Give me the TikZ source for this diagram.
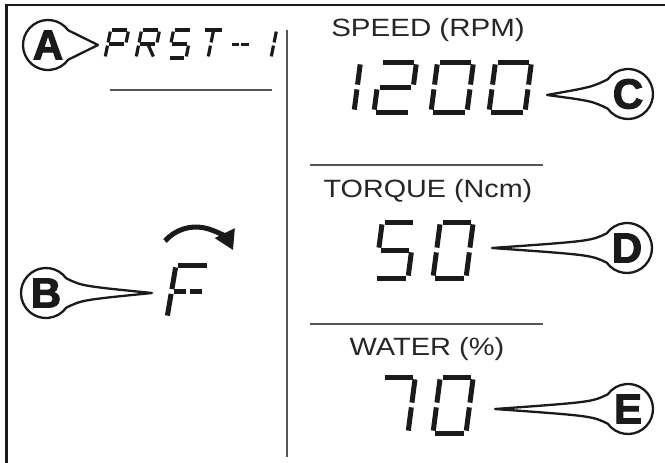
\documentclass[tikz,border=0pt]{standalone}
\usepackage{fontspec}
\setmainfont{Liberation Sans}
\newfontfamily\letfont{Liberation Sans Bold}[FakeBold=2.6]
\usetikzlibrary{calc,arrows.meta}
\definecolor{ink}{HTML}{1A1A1A}
\definecolor{txt}{HTML}{262626}
\definecolor{rulec}{HTML}{555555}
% seven-segment glyph: #1 x, #2 y bottom, #3 width, #4 height, #5 slant, #6 segments, #7 style
\newcommand{\segd}[7]{%
 \begin{scope}[shift={(#1,#2)}]
  \coordinate (BL) at (0,0);
  \coordinate (BR) at (#3,0);
  \coordinate (BM) at ({#3/2},0);
  \coordinate (ML) at ({#5*#4/2},{-#4/2});
  \coordinate (MR) at ({#3+#5*#4/2},{-#4/2});
  \coordinate (MM) at ({#3/2+#5*#4/2},{-#4/2});
  \coordinate (TL) at ({#5*#4},{-#4});
  \coordinate (TR) at ({#3+#5*#4},{-#4});
  \coordinate (TM) at ({#3/2+#5*#4},{-#4});
  \foreach \s/\e in {#6} {\draw[#7] (\s) -- (\e);}
 \end{scope}}
% callout bubble: #1 name, #2 centre, #3 tip, #4 letter, #5 direction
\newcommand{\callout}[5]{%
 \coordinate (#1c) at #2;
 \coordinate (#1t) at #3;
 \path (#1c) ++(#5+36:25) coordinate (#1p1);
 \path (#1c) ++(#5-36:25) coordinate (#1p2);
 \path (#1c) ++(#5:36) ++(#5+90:7) coordinate (#1q1);
 \path (#1c) ++(#5:36) ++(#5-90:7) coordinate (#1q2);
 \filldraw[callline] (#1p1) .. controls (#1q1) .. (#1t) .. controls (#1q2) .. (#1p2)
   arc[start angle=#5-36, end angle=#5+36-360, radius=25] -- cycle;
 \node[letter] (#1) at (#1c) {#4};
}
\begin{document}
\begin{tikzpicture}[x=1pt,y=-1pt,
  segsmall/.style={draw=ink, line width=3.2pt, shorten <=1.6pt, shorten >=1.6pt},
  segdash/.style={draw=ink, line width=3pt, shorten <=1pt, shorten >=1pt},
  segbig/.style={draw=ink, line width=5pt, shorten <=2.4pt, shorten >=2.4pt},
  callline/.style={draw=ink, fill=white, line width=2.3pt, line join=round},
  letter/.style={font=\letfont\fontsize{42}{42}\selectfont, text=ink, inner sep=0pt},
  lab/.style={font=\fontsize{25}{28}\selectfont, text=txt, inner sep=0pt, anchor=base},
  frame/.style={draw=ink, line width=2.5pt},
  rule/.style={draw=rulec, line width=1.3pt}]
\useasboundingbox (0,0) rectangle (665,463);
\fill[white] (0,0) rectangle (665,463);
% frame
\coordinate (f1) at (6.5,463);
\coordinate (f2) at (6.5,5);
\coordinate (f3) at (665,5);
\draw[frame] (f1) -- (f2) -- (f3);
% divider and rules
\coordinate (d1) at (287,30);
\coordinate (d2) at (287,457);
\draw[rule] (d1) -- (d2);
\coordinate (r1a) at (110,90);  \coordinate (r1b) at (272,90);
\coordinate (r2a) at (310,165); \coordinate (r2b) at (543,165);
\coordinate (r3a) at (310,324); \coordinate (r3b) at (543,324);
\draw[rule] (r1a) -- (r1b);
\draw[rule] (r2a) -- (r2b);
\draw[rule] (r3a) -- (r3b);
% PRST -- 1
\segd{105}{58}{18}{28}{0.2}{TL/TR,TR/MR,ML/MR,TL/ML,ML/BL}{segsmall}
\segd{136}{58}{18}{28}{0.2}{TL/TR,TR/MR,ML/MR,TL/ML,ML/BL,MM/BR}{segsmall}
\segd{168}{58}{18}{28}{0.2}{TL/TR,TL/ML,ML/MR,MR/BR,BL/BR}{segsmall}
\segd{198}{58}{20}{28}{0.2}{TL/TR,TM/MM,MM/BM}{segsmall}
\segd{228}{58}{19}{28}{0.2}{ML/MM,MM/MR}{segdash}
\segd{253}{58}{18}{28}{0.2}{TR/MR,MR/BR}{segsmall}
% F with rotation arrow
\segd{167}{318}{33}{53}{0.17}{TL/TR,TL/ML,ML/MM,MM/MR,ML/BL}{segbig}
\coordinate (arcS) at (165,241);
\draw[draw=ink, line width=5pt, -{Triangle[length=19pt,width=21pt]}]
  (arcS) arc[start angle=-138.6, end angle=-26, radius=41.3];
% speed
\node[lab] (speed) at (428,37) {\scalebox{1.18}[1]{SPEED (RPM)}};
\segd{318}{112}{36}{50}{0.13}{TR/MR,MR/BR}{segbig}
\segd{374}{112}{36}{50}{0.13}{TL/TR,TR/MR,ML/MR,ML/BL,BL/BR}{segbig}
\segd{431}{112}{36}{50}{0.13}{TL/TR,TR/MR,MR/BR,BL/BR,ML/BL,TL/ML}{segbig}
\segd{489}{112}{36}{50}{0.13}{TL/TR,TR/MR,MR/BR,BL/BR,ML/BL,TL/ML}{segbig}
% torque
\node[lab] (torque) at (428,197) {\scalebox{1.15}[1]{TORQUE (Ncm)}};
\segd{375}{278}{33}{56}{0.13}{TL/TR,TL/ML,ML/MR,MR/BR,BL/BR}{segbig}
\segd{433}{278}{33}{56}{0.13}{TL/TR,TR/MR,MR/BR,BL/BR,ML/BL,TL/ML}{segbig}
% water
\node[lab] (water) at (427,355) {\scalebox{1.16}[1]{WATER (\%)}};
\segd{375}{433}{33}{56}{0.13}{TL/TR,TR/MR,MR/BR}{segbig}
\segd{433}{433}{33}{56}{0.13}{TL/TR,TR/MR,MR/BR,BL/BR,ML/BL,TL/ML}{segbig}
% callouts
\callout{A}{(48,45)}{(98,45)}{A}{0}
\callout{B}{(46,293)}{(152,293)}{B}{0}
\callout{C}{(628,94)}{(547,95)}{C}{180}
\callout{D}{(627,248)}{(492,248)}{D}{180}
\callout{E}{(628,409)}{(495,409)}{E}{180}
\end{tikzpicture}
\end{document}
